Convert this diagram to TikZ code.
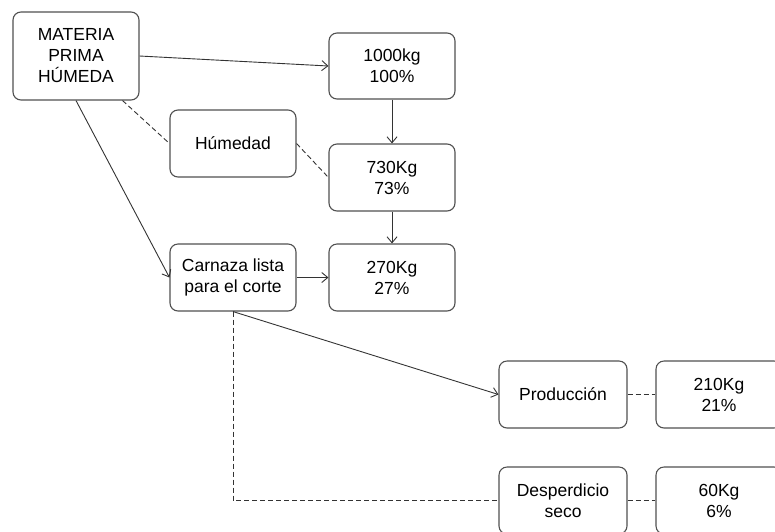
\documentclass[tikz,border=0pt]{standalone}
\usepackage{fontspec}
\setmainfont{Liberation Sans}
\usetikzlibrary{arrows.meta,calc}
\definecolor{boxline}{HTML}{505050}
\definecolor{conn}{HTML}{333333}
\begin{document}
\begin{tikzpicture}[x=1pt,y=-1pt,
  box/.style={draw=boxline,line width=1.1pt,rounded corners=8pt,align=center,
    inner sep=0pt,minimum width=126pt,minimum height=67pt,
    font=\fontsize{17.5}{21}\selectfont},
  flow/.style={draw=conn,line width=0.9pt,-{Straight Barb[length=6pt,width=10pt]}},
  dashlink/.style={draw=conn,line width=0.9pt,dash pattern=on 5pt off 3pt}]
\useasboundingbox (0,0) rectangle (775,531);
\clip (0,0) rectangle (775,531);
\node[box,minimum height=88pt] (m) at (76,56) {MATERIA\\PRIMA\\HÚMEDA};
\node[box,minimum height=66pt] (a) at (392,66) {1000kg\\100\%};
\node[box] (h) at (233,143.5) {Húmedad};
\node[box] (b) at (392,177.5) {730Kg\\73\%};
\node[box] (c) at (233,277.5) {Carnaza lista\\para el corte};
\node[box] (d) at (392,277.5) {270Kg\\27\%};
\node[box,minimum width=128pt] (p) at (563,394.5) {Producción};
\node[box,minimum width=126pt] (r1) at (719,394.5) {210Kg\\21\%};
\node[box,minimum width=128pt] (s) at (563,500.5) {Desperdicio\\seco};
\node[box,minimum width=126pt] (r2) at (719,500.5) {60Kg\\6\%};
\coordinate (mdash) at ($(m.south east)+(-17,0)$);
\draw[flow] (m.east) -- (a.west);
\draw[flow] (m.south) -- (c.west);
\draw[dashlink] (mdash) -- (h.west);
\draw[dashlink] (h.east) -- (b.west);
\draw[flow] (a.south) -- (b.north);
\draw[flow] (b.south) -- (d.north);
\draw[flow] (c.east) -- (d.west);
\draw[flow] (c.south) -- (p.west);
\draw[dashlink] (c.south) |- (s.west);
\draw[dashlink] (p.east) -- (r1.west);
\draw[dashlink] (s.east) -- (r2.west);
\end{tikzpicture}
\end{document}
